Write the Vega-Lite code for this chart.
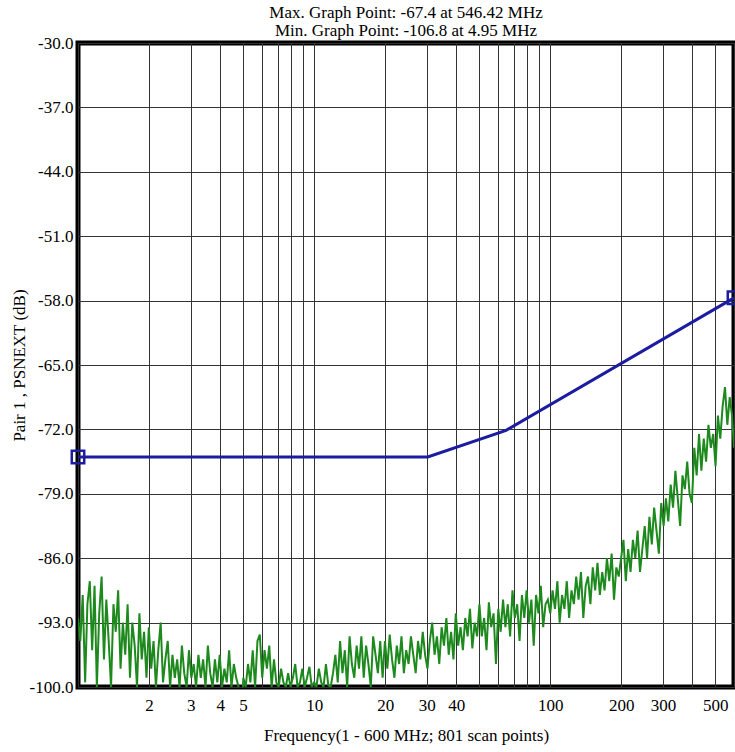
{
  "$schema": "https://vega.github.io/schema/vega-lite/v6.json",
  "width": 656,
  "height": 644,
  "autosize": {"type": "none"},
  "padding": {"left": 78, "top": 43, "right": 1, "bottom": 65},
  "background": "white",
  "title": {
    "text": ["Max. Graph Point: -67.4 at 546.42 MHz", "Min. Graph Point: -106.8 at 4.95 MHz"],
    "font": "Liberation Serif",
    "fontSize": 17,
    "fontWeight": "normal",
    "color": "#000",
    "anchor": "middle",
    "offset": -6,
    "lineHeight": 18
  },
  "config": {
    "view": {"stroke": "#000", "strokeWidth": 5},
    "font": "Liberation Serif"
  },
  "datasets": {
    "trace": [
      {"f":1,"v":-92.5},{"f":1.023,"v":-95},{"f":1.047,"v":-90},{"f":1.072,"v":-99.5},{"f":1.096,"v":-91},{"f":1.122,"v":-88.5},{"f":1.148,"v":-96},{"f":1.175,"v":-89},{"f":1.202,"v":-100},{"f":1.23,"v":-92},
      {"f":1.259,"v":-88},{"f":1.288,"v":-97},{"f":1.318,"v":-90.5},{"f":1.349,"v":-95},{"f":1.38,"v":-100},{"f":1.413,"v":-91},{"f":1.445,"v":-94},{"f":1.479,"v":-89.5},{"f":1.514,"v":-98},{"f":1.549,"v":-93},
      {"f":1.585,"v":-96.5},{"f":1.622,"v":-91},{"f":1.66,"v":-99},{"f":1.698,"v":-93},{"f":1.738,"v":-95.5},{"f":1.778,"v":-100},{"f":1.82,"v":-92},{"f":1.862,"v":-97},{"f":1.905,"v":-94},{"f":1.95,"v":-99},
      {"f":1.995,"v":-93.5},{"f":2.042,"v":-98},{"f":2.089,"v":-95},{"f":2.138,"v":-100},{"f":2.188,"v":-96},{"f":2.239,"v":-93},{"f":2.291,"v":-99.5},{"f":2.344,"v":-97},{"f":2.399,"v":-95},{"f":2.455,"v":-100},
      {"f":2.512,"v":-96.5},{"f":2.57,"v":-99},{"f":2.63,"v":-97},{"f":2.692,"v":-100},{"f":2.754,"v":-95.5},{"f":2.818,"v":-98.5},{"f":2.884,"v":-100},{"f":2.951,"v":-96},{"f":3.02,"v":-99},{"f":3.09,"v":-97.5},
      {"f":3.162,"v":-100},{"f":3.236,"v":-96.5},{"f":3.311,"v":-99},{"f":3.388,"v":-97},{"f":3.467,"v":-100},{"f":3.548,"v":-95.5},{"f":3.631,"v":-98.5},{"f":3.715,"v":-100},{"f":3.802,"v":-97},{"f":3.89,"v":-99.5},
      {"f":3.981,"v":-96.5},{"f":4.074,"v":-100},{"f":4.169,"v":-98},{"f":4.266,"v":-99.5},{"f":4.365,"v":-96},{"f":4.467,"v":-100},{"f":4.571,"v":-97.5},{"f":4.677,"v":-99},{"f":4.786,"v":-100},{"f":4.898,"v":-106.8},
      {"f":5.012,"v":-99},{"f":5.129,"v":-100},{"f":5.248,"v":-97.5},{"f":5.37,"v":-99.5},{"f":5.495,"v":-96},{"f":5.623,"v":-100},{"f":5.754,"v":-95},{"f":5.888,"v":-94.3},{"f":6.026,"v":-99},{"f":6.166,"v":-96},
      {"f":6.31,"v":-98},{"f":6.457,"v":-95.5},{"f":6.607,"v":-100},{"f":6.761,"v":-97},{"f":6.918,"v":-99.5},{"f":7.079,"v":-100},{"f":7.244,"v":-98},{"f":7.413,"v":-99.5},{"f":7.586,"v":-100},{"f":7.762,"v":-98.5},
      {"f":7.943,"v":-100},{"f":8.128,"v":-99},{"f":8.318,"v":-97.5},{"f":8.511,"v":-100},{"f":8.71,"v":-99.5},{"f":8.913,"v":-98},{"f":9.12,"v":-100},{"f":9.333,"v":-99},{"f":9.55,"v":-97.8},{"f":9.772,"v":-100},
      {"f":10,"v":-99.5},{"f":10.23,"v":-100},{"f":10.47,"v":-98},{"f":10.72,"v":-99.5},{"f":10.96,"v":-100},{"f":11.22,"v":-97.5},{"f":11.48,"v":-99.8},{"f":11.75,"v":-100},{"f":12.02,"v":-98.5},{"f":12.3,"v":-96.5},
      {"f":12.59,"v":-99.5},{"f":12.88,"v":-95},{"f":13.18,"v":-98.5},{"f":13.49,"v":-96},{"f":13.8,"v":-100},{"f":14.13,"v":-94.5},{"f":14.45,"v":-97.5},{"f":14.79,"v":-99},{"f":15.14,"v":-95.5},{"f":15.49,"v":-98},
      {"f":15.85,"v":-94.5},{"f":16.22,"v":-99},{"f":16.6,"v":-95.5},{"f":16.98,"v":-97.5},{"f":17.38,"v":-100},{"f":17.78,"v":-94.5},{"f":18.2,"v":-96.5},{"f":18.62,"v":-98.5},{"f":19.05,"v":-95},{"f":19.5,"v":-99},
      {"f":19.95,"v":-95},{"f":20.42,"v":-98},{"f":20.89,"v":-94.3},{"f":21.38,"v":-97},{"f":21.88,"v":-99},{"f":22.39,"v":-95.5},{"f":22.91,"v":-97.5},{"f":23.44,"v":-94.5},{"f":23.99,"v":-98.5},{"f":24.55,"v":-96},
      {"f":25.12,"v":-97.5},{"f":25.7,"v":-94.5},{"f":26.3,"v":-96.5},{"f":26.92,"v":-98.5},{"f":27.54,"v":-95},{"f":28.18,"v":-97},{"f":28.84,"v":-94},{"f":29.51,"v":-96.5},{"f":30.2,"v":-98},{"f":30.9,"v":-95},
      {"f":31.62,"v":-93},{"f":32.36,"v":-96.5},{"f":33.11,"v":-94.5},{"f":33.88,"v":-97.5},{"f":34.67,"v":-93.5},{"f":35.48,"v":-95.5},{"f":36.31,"v":-92.5},{"f":37.15,"v":-96.5},{"f":38.02,"v":-94},{"f":38.9,"v":-97},
      {"f":39.81,"v":-92},{"f":40.74,"v":-95.5},{"f":41.69,"v":-93.5},{"f":42.66,"v":-96},{"f":43.65,"v":-92.5},{"f":44.67,"v":-94.5},{"f":45.71,"v":-91.5},{"f":46.77,"v":-95.8},{"f":47.86,"v":-93},{"f":48.98,"v":-94.5},
      {"f":50.12,"v":-91},{"f":51.29,"v":-94.5},{"f":52.48,"v":-92.5},{"f":53.7,"v":-96},{"f":54.95,"v":-90.8},{"f":56.23,"v":-93.5},{"f":57.54,"v":-92},{"f":58.88,"v":-97.5},{"f":60.26,"v":-91.5},{"f":61.66,"v":-94},
      {"f":63.1,"v":-90.5},{"f":64.57,"v":-93.5},{"f":66.07,"v":-91},{"f":67.61,"v":-94.5},{"f":69.18,"v":-89.5},{"f":70.79,"v":-92.5},{"f":72.44,"v":-91},{"f":74.13,"v":-95},{"f":75.86,"v":-90},{"f":77.62,"v":-92.5},
      {"f":79.43,"v":-89.5},{"f":81.28,"v":-93},{"f":83.18,"v":-90.5},{"f":85.11,"v":-95.5},{"f":87.1,"v":-90},{"f":89.13,"v":-92},{"f":91.2,"v":-89},{"f":93.33,"v":-93.5},{"f":95.5,"v":-91},{"f":97.72,"v":-90.5},
      {"f":100,"v":-92},{"f":102.3,"v":-89.5},{"f":104.7,"v":-91.5},{"f":107.2,"v":-88.5},{"f":109.6,"v":-93},{"f":112.2,"v":-90},{"f":114.8,"v":-91.5},{"f":117.5,"v":-88.5},{"f":120.2,"v":-92.5},{"f":123,"v":-89.5},
      {"f":125.9,"v":-91},{"f":128.8,"v":-88},{"f":131.8,"v":-90.5},{"f":134.9,"v":-87.5},{"f":138,"v":-92.5},{"f":141.3,"v":-89},{"f":144.5,"v":-88},{"f":147.9,"v":-91},{"f":151.4,"v":-87},{"f":154.9,"v":-89.5},
      {"f":158.5,"v":-86.5},{"f":162.2,"v":-90},{"f":166,"v":-87.5},{"f":169.8,"v":-89.5},{"f":173.8,"v":-86},{"f":177.8,"v":-88.5},{"f":182,"v":-85.5},{"f":186.2,"v":-90.5},{"f":190.5,"v":-87},{"f":195,"v":-88},
      {"f":199.5,"v":-86},{"f":204.2,"v":-84},{"f":208.9,"v":-88.5},{"f":213.8,"v":-85},{"f":218.8,"v":-87.5},{"f":223.9,"v":-84},{"f":229.1,"v":-86},{"f":234.4,"v":-83},{"f":239.9,"v":-87.5},{"f":245.5,"v":-85},
      {"f":251.2,"v":-82.5},{"f":257,"v":-86},{"f":263,"v":-81.5},{"f":269.2,"v":-84.5},{"f":275.4,"v":-80.5},{"f":281.8,"v":-83},{"f":288.4,"v":-85.5},{"f":295.1,"v":-80},{"f":302,"v":-82.5},{"f":309,"v":-79.5},
      {"f":316.2,"v":-82},{"f":323.6,"v":-78},{"f":331.1,"v":-80.5},{"f":338.8,"v":-76.5},{"f":346.7,"v":-79.5},{"f":354.8,"v":-82.5},{"f":363.1,"v":-77},{"f":371.5,"v":-78.5},{"f":380.2,"v":-75.5},{"f":389,"v":-79},
      {"f":398.1,"v":-80},{"f":407.4,"v":-74},{"f":416.9,"v":-77},{"f":426.6,"v":-72.5},{"f":436.5,"v":-76.5},{"f":446.7,"v":-73},{"f":457.1,"v":-75.5},{"f":467.7,"v":-71.5},{"f":478.6,"v":-74},{"f":489.8,"v":-72.5},
      {"f":501.2,"v":-76},{"f":512.9,"v":-70.5},{"f":524.8,"v":-73},{"f":537,"v":-69.5},{"f":549.5,"v":-67.4},{"f":562.3,"v":-71.5},{"f":575.4,"v":-68.5},{"f":588.8,"v":-70.5},{"f":600,"v":-74}
    ],
    "limit": [
      {"f":1,"v":-75},{"f":30.3,"v":-75},{"f":65,"v":-72.1},{"f":600,"v":-57.7}
    ],
    "markers": [
      {"f":1,"v":-75},{"f":600,"v":-57.7}
    ]
  },
  "layer": [
    {
      "data": {"name": "trace"},
      "mark": {"type": "line", "color": "#1e8a1e", "strokeWidth": 2, "clip": true},
      "encoding": {
        "x": {
          "field": "f", "type": "quantitative",
          "scale": {"type": "log", "domain": [1, 600], "nice": false},
          "axis": {
            "values": [1,2,3,4,5,6,7,8,9,10,20,30,40,50,60,70,80,90,100,200,300,400,500,600],
            "format": "d",
            "labelExpr": "indexof([2,3,4,5,10,20,30,40,100,200,300,500], datum.value) >= 0 ? datum.label : ''",
            "labelOverlap": false,
            "labelFlush": false,
            "grid": true, "gridColor": "#333", "gridWidth": 1, "gridOpacity": 1,
            "ticks": false, "domain": false,
            "labelFont": "Liberation Serif", "labelFontSize": 17, "labelColor": "#000", "labelPadding": 10,
            "title": "Frequency(1 - 600 MHz; 801 scan points)",
            "titleFont": "Liberation Serif", "titleFontSize": 17, "titleFontWeight": "normal", "titleColor": "#000", "titlePadding": 14
          }
        },
        "y": {
          "field": "v", "type": "quantitative",
          "scale": {"domain": [-100, -30], "nice": false, "zero": false},
          "axis": {
            "values": [-100,-93,-86,-79,-72,-65,-58,-51,-44,-37,-30],
            "labelExpr": "replace(format(datum.value, '.1f'), '\u2212', '-')",
            "grid": true, "gridColor": "#333", "gridWidth": 1, "gridOpacity": 1,
            "ticks": false, "domain": false,
            "labelFont": "Liberation Serif", "labelFontSize": 17, "labelColor": "#000", "labelPadding": 5,
            "labelOverlap": false, "labelFlush": false,
            "title": "Pair 1 , PSNEXT (dB)",
            "titleFont": "Liberation Serif", "titleFontSize": 17, "titleFontWeight": "normal", "titleColor": "#000", "titlePadding": 1
          }
        }
      }
    },
    {
      "data": {"name": "limit"},
      "mark": {"type": "line", "color": "#1c1ca0", "strokeWidth": 3},
      "encoding": {
        "x": {"field": "f", "type": "quantitative"},
        "y": {"field": "v", "type": "quantitative"}
      }
    },
    {
      "data": {"name": "markers"},
      "mark": {"type": "point", "shape": "square", "filled": false, "size": 155, "strokeWidth": 2.5, "color": "#1c1ca0", "opacity": 1, "clip": false},
      "encoding": {
        "x": {"field": "f", "type": "quantitative"},
        "y": {"field": "v", "type": "quantitative"}
      }
    }
  ]
}
